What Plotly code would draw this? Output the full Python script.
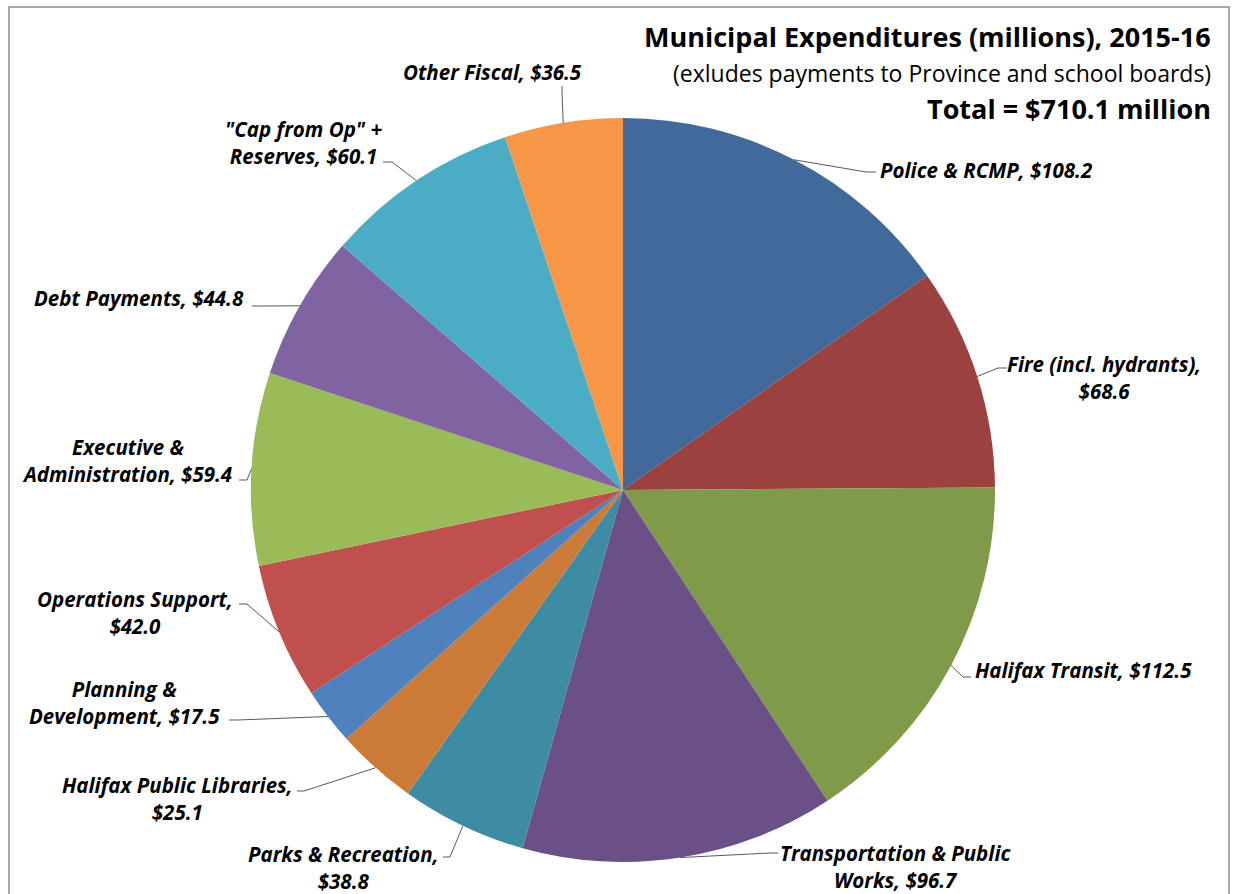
import math
import plotly.graph_objects as go

# Expenditure categories, clockwise from 12 o'clock (millions of dollars)
categories = [
    "Police & RCMP",
    "Fire (incl. hydrants)",
    "Halifax Transit",
    "Transportation & Public Works",
    "Parks & Recreation",
    "Halifax Public Libraries",
    "Planning & Development",
    "Operations Support",
    "Executive & Administration",
    "Debt Payments",
    "\"Cap from Op\" + Reserves",
    "Other Fiscal",
]
amounts = [108.2, 68.6, 112.5, 96.7, 38.8, 25.1, 17.5, 42.0, 59.4, 44.8, 60.1, 36.5]

# Label text broken into display lines ("{v}" gets the formatted amount)
label_lines = [
    ["Police & RCMP, {v}"],
    ["Fire (incl. hydrants),", "{v}"],
    ["Halifax Transit, {v}"],
    ["Transportation & Public", "Works, {v}"],
    ["Parks & Recreation,", "{v}"],
    ["Halifax Public Libraries,", "{v}"],
    ["Planning &", "Development, {v}"],
    ["Operations Support,", "{v}"],
    ["Executive &", "Administration, {v}"],
    ["Debt Payments, {v}"],
    ["\"Cap from Op\" +", "Reserves, {v}"],
    ["Other Fiscal, {v}"],
]

colors = [
    "#416A9B", "#9B413F", "#7F9A48", "#6A5087", "#3D8CA3", "#CC7A37",
    "#4F81BD", "#C0504D", "#9BBB59", "#8064A2", "#4BACC6", "#F79646",
]

W, H = 1235, 894
CX, CY, R = 623, 490, 372  # pie centre and radius, pixels

# Label placement: text anchor (x, y, xanchor) and leader elbow / tail, pixels
label_pos = [
    (878, 170, "left"),
    (1104, 378, "center"),
    (973, 670, "left"),
    (895, 866, "center"),
    (343, 867, "center"),
    (177, 798, "center"),
    (124, 702, "center"),
    (135, 612, "center"),
    (127, 460, "center"),
    (246, 298, "right"),
    (303, 143, "center"),
    (492, 72, "center"),
]
leader_elbow = [
    (866, 172), (998, 368), (963, 677), (770, 853), (450, 857), (304, 791),
    (238, 720), (247, 604), (247, 480), (260, 306), (392, 162), (562, 92),
]
leader_tail = [
    (876, 172), (1007, 368), (971, 677), (778, 853), (443, 857), (297, 791),
    (229, 720), (239, 604), (239, 480), (252, 306), (383, 162), (562, 86),
]


def px(x):
    return x / W


def py(y):
    return 1 - y / H


fig = go.Figure(
    go.Pie(
        labels=categories,
        values=amounts,
        sort=False,
        direction="clockwise",
        rotation=0,
        marker=dict(colors=colors, line=dict(width=0)),
        textinfo="none",
        hoverinfo="label+value",
        showlegend=False,
        domain=dict(x=[px(CX - R), px(CX + R)], y=[py(CY + R), py(CY - R)]),
    )
)

FONT = "'Open Sans', 'DejaVu Sans', sans-serif"
label_font = dict(family=FONT, size=20.5, color="#000000",
                  weight="bold", style="italic")

total = sum(amounts)
shapes = []
annotations = []
cum = 0.0
for i, v in enumerate(amounts):
    mid = (cum + v / 2) / total * 2 * math.pi
    cum += v
    ex = CX + R * math.sin(mid)
    ey = CY - R * math.cos(mid)
    (bx, by), (tx, ty) = leader_elbow[i], leader_tail[i]
    shapes.append(dict(
        type="path", xref="paper", yref="paper",
        path=f"M {px(ex)},{py(ey)} L {px(bx)},{py(by)} L {px(tx)},{py(ty)}",
        line=dict(color="#595959", width=1),
    ))
    lx, ly, anchor = label_pos[i]
    text = "<br>".join(s.format(v=f"${v:.1f}") for s in label_lines[i])
    annotations.append(dict(
        x=px(lx), y=py(ly), xref="paper", yref="paper", text=text,
        showarrow=False, xanchor=anchor, yanchor="middle", align="center",
        font=label_font,
    ))

title_font = dict(family=FONT, color="#000000")
annotations += [
    dict(x=px(1213), y=py(37), xref="paper", yref="paper", xanchor="right",
         yanchor="middle", showarrow=False,
         text="Municipal Expenditures (millions), 2015-16",
         font=dict(title_font, size=27, weight="bold")),
    dict(x=px(1213), y=py(73), xref="paper", yref="paper", xanchor="right",
         yanchor="middle", showarrow=False,
         text="(exludes payments to Province and school boards)",
         font=dict(title_font, size=23)),
    dict(x=px(1213), y=py(109), xref="paper", yref="paper", xanchor="right",
         yanchor="middle", showarrow=False,
         text=f"Total = ${total - 0.1:.1f} million",
         font=dict(title_font, size=27, weight="bold")),
]

# Chart-area frame
shapes.append(dict(type="rect", xref="paper", yref="paper",
                   x0=px(9), x1=px(1229), y0=py(7), y1=-0.05,
                   line=dict(color="#8C8C8C", width=1.5)))

fig.update_layout(
    width=W, height=H,
    margin=dict(l=0, r=0, t=0, b=0),
    paper_bgcolor="white", plot_bgcolor="white",
    shapes=shapes, annotations=annotations,
)

fig.write_html("out.html")
